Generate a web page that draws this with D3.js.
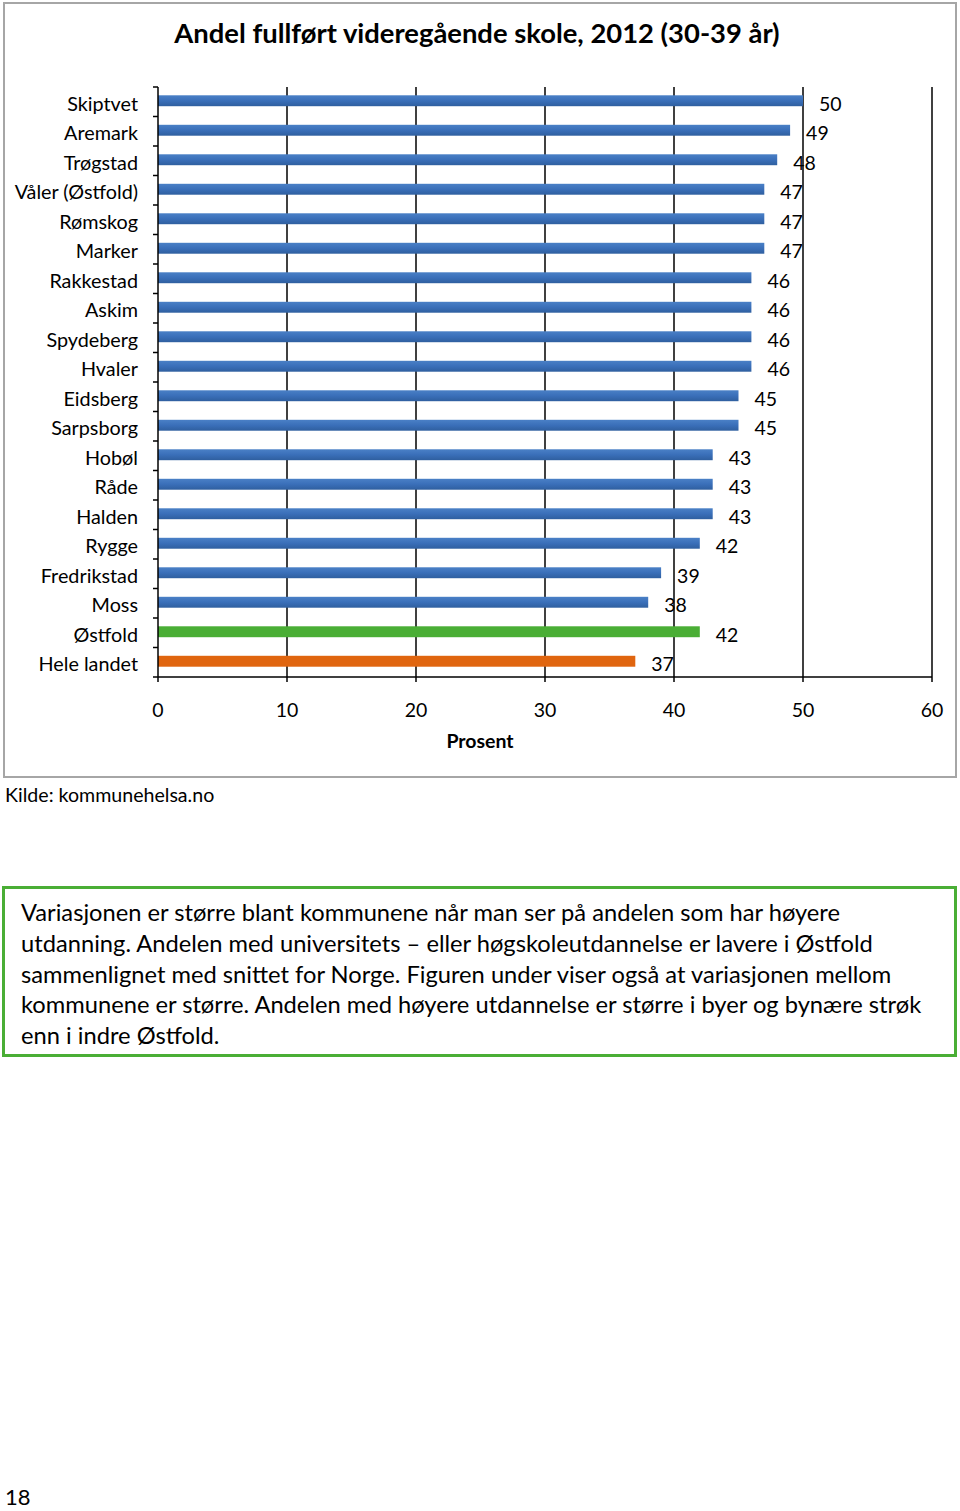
<!DOCTYPE html>
<html><head><meta charset="utf-8">
<script src="https://cdn.jsdelivr.net/npm/d3@7"></script>
<style>
body{margin:0;background:#fff;}
svg{display:block;}
text{font-family:Lato,"Open Sans",sans-serif;fill:#000;}
</style></head>
<body>
<svg id="c" width="960" height="1511"></svg>
<script>
const categories = ["Skiptvet","Aremark","Trøgstad","Våler (Østfold)","Rømskog","Marker","Rakkestad","Askim","Spydeberg","Hvaler","Eidsberg","Sarpsborg","Hobøl","Råde","Halden","Rygge","Fredrikstad","Moss","Østfold","Hele landet"];
const values = [50,49,48,47,47,47,46,46,46,46,45,45,43,43,43,42,39,38,42,37];
const barColors = {"Østfold":"#4aae35","Hele landet":"#e0650f"};
const xTicks = [0,10,20,30,40,50,60];
const title = "Andel fullført videregående skole, 2012 (30-39 år)";
const xTitle = "Prosent";
const source = "Kilde: kommunehelsa.no";
const paragraph = [
 "Variasjonen er større blant kommunene når man ser på andelen som har høyere",
 "utdanning. Andelen med universitets – eller høgskoleutdannelse er lavere i Østfold",
 "sammenlignet med snittet for Norge. Figuren under viser også at variasjonen mellom",
 "kommunene er større. Andelen med høyere utdannelse er større i byer og bynære strøk",
 "enn i indre Østfold."
];
const pageNumber = "18";

const svg = d3.select("#c");
svg.append("rect").attr("x",4).attr("y",3).attr("width",952).attr("height",774)
  .attr("fill","#fff").attr("stroke","#a6a6a6").attr("stroke-width",2);

svg.append("text").attr("x",477).attr("y",43).attr("text-anchor","middle")
  .attr("font-size",27.4).attr("font-weight","bold").text(title);

const x = d3.scaleLinear().domain([0,60]).range([158,932]);
const y = d3.scaleBand().domain(categories).range([87,677]).paddingInner(0.63).paddingOuter(0.315);
const band = d3.scaleBand().domain(categories).range([87,677]);

svg.append("g").selectAll("line").data(xTicks.slice(1)).join("line")
  .attr("x1",d=>x(d)).attr("x2",d=>x(d)).attr("y1",87).attr("y2",677)
  .attr("stroke","#000").attr("stroke-width",1.5);

const grad = svg.append("defs").append("linearGradient").attr("id","bg").attr("x1",0).attr("x2",0).attr("y1",0).attr("y2",1);
grad.append("stop").attr("offset","0%").attr("stop-color","#4a80c6");
grad.append("stop").attr("offset","50%").attr("stop-color","#3a6fb9");
grad.append("stop").attr("offset","100%").attr("stop-color","#2f5f9f");

svg.append("g").selectAll("rect").data(categories).join("rect")
  .attr("x",x(0)).attr("y",d=>y(d)-1).attr("height",y.bandwidth())
  .attr("width",(d,i)=>x(values[i])-x(0))
  .attr("fill",d=>barColors[d]||"url(#bg)");

svg.append("g").selectAll("text").data(categories).join("text")
  .attr("x",(d,i)=>x(values[i])+16).attr("y",d=>band(d)+band.bandwidth()/2+9)
  .attr("font-size",19.5).text((d,i)=>values[i]);

const yAxis = svg.append("g").attr("transform","translate(158,0)");
yAxis.append("line").attr("x1",0).attr("x2",0).attr("y1",87).attr("y2",677).attr("stroke","#000").attr("stroke-width",1.5);
yAxis.selectAll("line.t").data(d3.range(categories.length+1)).join("line").attr("class","t")
  .attr("x1",-5).attr("x2",0).attr("y1",i=>87+i*band.step()).attr("y2",i=>87+i*band.step())
  .attr("stroke","#000").attr("stroke-width",1.5);
yAxis.selectAll("text").data(categories).join("text")
  .attr("x",-20).attr("y",d=>band(d)+band.bandwidth()/2+9)
  .attr("text-anchor","end").attr("font-size",19.8).text(d=>d);

const xAxis = svg.append("g").attr("transform","translate(0,677)");
xAxis.append("line").attr("x1",x(0)).attr("x2",x(60)).attr("y1",0).attr("y2",0).attr("stroke","#000").attr("stroke-width",1.5);
xAxis.selectAll("line.t").data(xTicks).join("line").attr("class","t")
  .attr("x1",d=>x(d)).attr("x2",d=>x(d)).attr("y1",0).attr("y2",5).attr("stroke","#000").attr("stroke-width",1.5);
xAxis.selectAll("text").data(xTicks).join("text")
  .attr("x",d=>x(d)).attr("y",40).attr("text-anchor","middle").attr("font-size",19.5).text(d=>d);

svg.append("text").attr("x",480).attr("y",748).attr("text-anchor","middle")
  .attr("font-size",19.5).attr("font-weight","bold").text(xTitle);

svg.append("text").attr("x",5).attr("y",802).attr("font-size",19.6).text(source);

svg.append("rect").attr("x",3.5).attr("y",887.5).attr("width",952).attr("height",168)
  .attr("fill","none").attr("stroke","#4aae35").attr("stroke-width",3);
svg.append("g").selectAll("text").data(paragraph).join("text")
  .attr("x",21).attr("y",(d,i)=>921+i*30.8).attr("font-size",23.7).text(d=>d);

svg.append("text").attr("x",5).attr("y",1505).attr("font-size",22).text(pageNumber);
</script>
</body></html>
